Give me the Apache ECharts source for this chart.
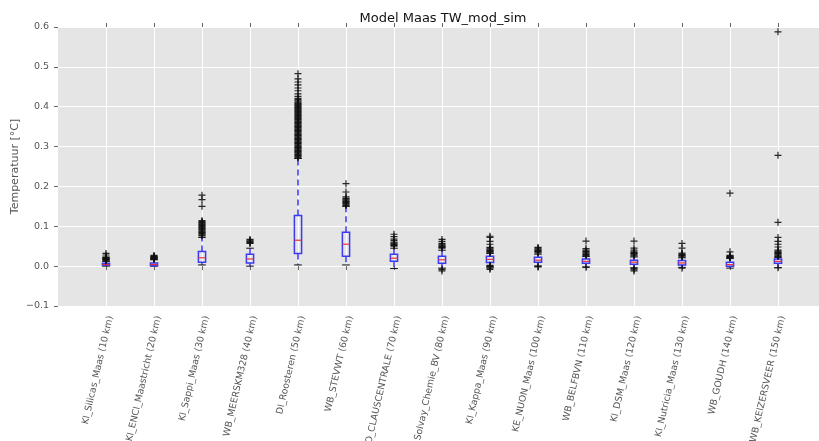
<!DOCTYPE html>
<html>
<head>
<meta charset="utf-8">
<script src="https://cdn.jsdelivr.net/npm/echarts@6/dist/echarts.min.js"></script>
<style>
  html, body { margin: 0; padding: 0; background: #fff; }
  #chart { width: 819px; height: 441px; }
</style>
</head>
<body>
<div id="chart"></div>
<script>
// stations along the river
const stations = [
  'KI_Silicas_Maas (10 km)', 'KI_ENCI_Maastricht (20 km)', 'KI_Sappi_Maas (30 km)',
  'WB_MEERSKM328 (40 km)', 'DI_Roosteren (50 km)', 'WB_STEVWT (60 km)',
  'O_CLAUSCENTRALE (70 km)', 'Solvay_Chemie_BV (80 km)', 'KI_Kappa_Maas (90 km)',
  'KE_NUON_Maas (100 km)', 'WB_BELFBVN (110 km)', 'KI_DSM_Maas (120 km)',
  'KI_Nutricia_Maas (130 km)', 'WB_GOUDH (140 km)', 'WB_KEIZERSVEER (150 km)'
];

// box statistics per station
const whiskLow = [0.000, 0.000, 0.003, 0.000, 0.003, 0.003, -0.006, -0.005, -0.002, 0.000, -0.002, -0.004, -0.003, -0.005, -0.004];
const q1       = [0.002, 0.001, 0.010, 0.008, 0.032, 0.025, 0.012, 0.007, 0.009, 0.010, 0.007, 0.005, 0.003, 0.000, 0.007];
const median   = [0.004, 0.004, 0.021, 0.018, 0.065, 0.055, 0.020, 0.016, 0.017, 0.015, 0.012, 0.010, 0.008, 0.004, 0.012];
const q3       = [0.007, 0.008, 0.037, 0.030, 0.127, 0.085, 0.030, 0.025, 0.025, 0.022, 0.018, 0.015, 0.014, 0.010, 0.018];
const whiskHigh= [0.012, 0.016, 0.072, 0.045, 0.270, 0.150, 0.045, 0.040, 0.032, 0.030, 0.024, 0.023, 0.021, 0.019, 0.022];

// outliers (fliers) per station
const fliers = [
  [0.013, 0.015, 0.016, 0.017, 0.018, 0.019, 0.020, 0.021, 0.022, 0.023, 0.028, 0.032],
  [0.017, 0.018, 0.019, 0.020, 0.021, 0.022, 0.023, 0.024, 0.025, 0.027],
  [0.076, 0.078, 0.080, 0.082, 0.084, 0.086, 0.088, 0.090, 0.092, 0.094, 0.096, 0.098, 0.100,
   0.102, 0.104, 0.106, 0.108, 0.110, 0.112, 0.114, 0.150, 0.167, 0.178],
  [0.057, 0.059, 0.061, 0.063, 0.065, 0.067],
  [0.272, 0.274, 0.276, 0.278, 0.280, 0.282, 0.284, 0.286, 0.288, 0.290, 0.292, 0.294, 0.296, 0.298,
   0.300, 0.302, 0.304, 0.306, 0.308, 0.310, 0.312, 0.314, 0.316, 0.318, 0.320, 0.322, 0.324, 0.326,
   0.328, 0.330, 0.332, 0.334, 0.336, 0.338, 0.340, 0.342, 0.344, 0.346, 0.348, 0.350, 0.352, 0.354,
   0.356, 0.358, 0.360, 0.362, 0.364, 0.366, 0.368, 0.370, 0.372, 0.374, 0.376, 0.378, 0.380, 0.382,
   0.384, 0.386, 0.388, 0.390, 0.392, 0.394, 0.396, 0.398, 0.400, 0.402, 0.404, 0.406, 0.408, 0.410,
   0.412, 0.415, 0.418, 0.421, 0.426, 0.432, 0.440, 0.447, 0.455, 0.462, 0.470, 0.483],
  [0.152, 0.154, 0.156, 0.158, 0.160, 0.162, 0.164, 0.166, 0.168, 0.170, 0.174, 0.186, 0.207],
  [0.050, 0.052, 0.054, 0.056, 0.058, 0.060, 0.064, 0.068, 0.074, 0.080],
  [0.045, 0.047, 0.049, 0.051, 0.053, 0.055, 0.057, 0.062, 0.067, -0.008, -0.012],
  [0.033, 0.035, 0.037, 0.039, 0.041, 0.043, 0.045, 0.047, 0.055, 0.062, 0.072, 0.075, 0.002, 0.000, -0.002, -0.005, -0.008],
  [0.033, 0.035, 0.037, 0.039, 0.041, 0.043, 0.045, 0.047, 0.000, -0.002],
  [0.027, 0.029, 0.031, 0.033, 0.035, 0.037, 0.040, 0.044, 0.063, -0.003],
  [0.026, 0.028, 0.030, 0.032, 0.034, 0.036, 0.040, 0.045, 0.063, -0.006, -0.009, -0.012],
  [0.023, 0.025, 0.027, 0.029, 0.031, 0.033, 0.045, 0.057, -0.005],
  [0.021, 0.022, 0.023, 0.024, 0.025, 0.027, 0.036, 0.183],
  [0.024, 0.026, 0.028, 0.030, 0.032, 0.034, 0.036, 0.038, 0.040, 0.048, 0.055, 0.062, 0.072, 0.110, 0.278, 0.588, -0.004]
];

const yTicks = [-0.1, 0.0, 0.1, 0.2, 0.3, 0.4, 0.5, 0.6];

// padded category list so that the first/last boxes sit one step from the plot edge
const cats = [''].concat(stations, ['']);
const isStation = (i) => i > 0 && i < cats.length - 1;

const boxData = stations.map((s, i) => [i + 1, whiskLow[i], q1[i], median[i], q3[i], whiskHigh[i]]);
const flierData = [];
fliers.forEach((arr, i) => arr.forEach(v => flierData.push([i + 1, v])));

const blue = '#3a3af0';
const red = '#e8303a';

function renderBox(params, api) {
  const x = api.value(0);
  const step = api.size([1, 0])[0];
  const bw = step * 0.15;
  const cw = step * 0.08;
  const pLo = api.coord([x, api.value(1)]);
  const pQ1 = api.coord([x, api.value(2)]);
  const pMed = api.coord([x, api.value(3)]);
  const pQ3 = api.coord([x, api.value(4)]);
  const pHi = api.coord([x, api.value(5)]);
  const cx = pQ1[0];
  const dashed = { stroke: blue, lineWidth: 1.5, lineDash: [6, 4] };
  return {
    type: 'group',
    children: [
      { type: 'line', shape: { x1: cx, y1: pQ1[1], x2: cx, y2: pLo[1] }, style: dashed },
      { type: 'line', shape: { x1: cx, y1: pQ3[1], x2: cx, y2: pHi[1] }, style: dashed },
      { type: 'line', shape: { x1: cx - cw, y1: pLo[1], x2: cx + cw, y2: pLo[1] }, style: { stroke: '#111', lineWidth: 1 } },
      { type: 'line', shape: { x1: cx - cw, y1: pHi[1], x2: cx + cw, y2: pHi[1] }, style: { stroke: '#111', lineWidth: 1 } },
      { type: 'rect', shape: { x: cx - bw / 2, y: pQ3[1], width: bw, height: Math.max(pQ1[1] - pQ3[1], 1) },
        style: { fill: 'none', stroke: blue, lineWidth: 1.5 } },
      { type: 'line', shape: { x1: cx - bw / 2, y1: pMed[1], x2: cx + bw / 2, y2: pMed[1] }, style: { stroke: red, lineWidth: 1.2 } }
    ]
  };
}

const chart = echarts.init(document.getElementById('chart'), null, { renderer: 'canvas' });

const option = {
  backgroundColor: '#fff',
  animation: false,
  title: {
    text: 'Model Maas TW_mod_sim',
    left: 438,
    top: 7,
    textAlign: 'center',
    textStyle: { fontFamily: 'DejaVu Sans', fontSize: 13, fontWeight: 'normal', color: '#111' }
  },
  grid: {
    left: 58, top: 27, right: -7, bottom: 135,
    outerBoundsMode: 'none',
    containLabel: false,
    show: true, backgroundColor: '#e5e5e5', borderWidth: 0
  },
  xAxis: [
    {
      type: 'category',
      data: cats,
      boundaryGap: false,
      axisLine: { show: false },
      axisTick: { show: true, interval: isStation, length: 4, lineStyle: { color: '#666' } },
      splitLine: { show: true, interval: isStation, lineStyle: { color: '#fff', width: 1 } },
      axisLabel: {
        interval: isStation,
        rotate: 77,
        margin: 9,
        verticalAlign: 'top',
        fontFamily: 'DejaVu Sans',
        fontSize: 9.3,
        color: '#555'
      }
    },
    {
      type: 'category',
      data: cats,
      position: 'top',
      boundaryGap: false,
      axisLine: { show: false },
      axisTick: { show: true, interval: isStation, length: 4, lineStyle: { color: '#666' } },
      axisLabel: { show: false },
      splitLine: { show: false }
    }
  ],
  yAxis: {
    type: 'value',
    min: yTicks[0],
    max: yTicks[yTicks.length - 1],
    interval: 0.1,
    name: 'Temperatuur [°C]',
    nameLocation: 'middle',
    nameGap: 37,
    nameMoveOverlap: false,
    nameTextStyle: { fontFamily: 'DejaVu Sans', fontSize: 11, color: '#555' },
    axisLine: { show: false },
    axisTick: { show: true, length: 4, lineStyle: { color: '#666' } },
    splitLine: { show: true, lineStyle: { color: '#fff', width: 1 } },
    axisLabel: {
      margin: 9,
      fontFamily: 'DejaVu Sans',
      fontSize: 9.5,
      color: '#555',
      formatter: (v) => (v < -1e-9 ? '\u2212' + Math.abs(v).toFixed(1) : Math.abs(v).toFixed(1))
    }
  },
  series: [
    {
      type: 'custom',
      name: 'box',
      xAxisIndex: 0,
      renderItem: renderBox,
      data: boxData,
      encode: { x: 0, y: [1, 2, 3, 4, 5] },
      z: 3
    },
    {
      type: 'scatter',
      name: 'fliers',
      xAxisIndex: 0,
      data: flierData,
      symbol: 'path://M-0.17,-1H0.17V-0.17H1V0.17H0.17V1H-0.17V0.17H-1V-0.17H-0.17Z',
      symbolSize: 7,
      itemStyle: { color: '#111', opacity: 0.9 },
      z: 4
    }
  ]
};

chart.setOption(option);
</script>
</body>
</html>
